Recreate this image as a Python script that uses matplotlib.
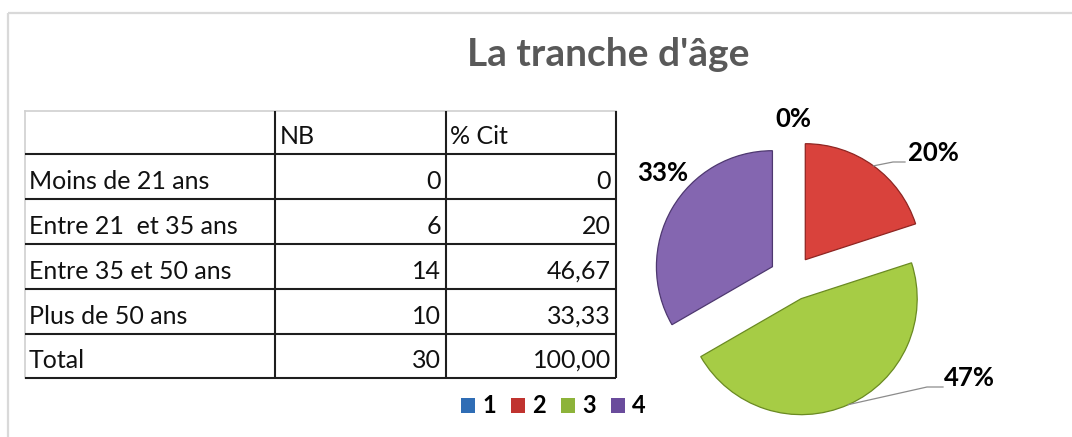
import numpy as np
import matplotlib
matplotlib.use("Agg")
import matplotlib.pyplot as plt
from matplotlib.patches import Rectangle

# ---- data ----
title = "La tranche d'âge"
categories = ["Moins de 21 ans", "Entre 21  et 35 ans", "Entre 35 et 50 ans", "Plus de 50 ans"]
nb = [0, 6, 14, 10]
pct_cit = ["0", "20", "46,67", "33,33"]
total_label = "Total"
total_nb = "30"
total_pct = "100,00"
headers = ["", "NB", "% Cit"]
legend_labels = ["1", "2", "3", "4"]

# ---- style ----
W, H = 1072, 437
pie_colors = ["#4F81BD", "#D9423C", "#A6CC45", "#8466B0"]
pie_edges = ["#2C4D74", "#8E2522", "#6A8A22", "#4E3870"]
legend_colors = ["#2F6DB5", "#C0332F", "#8DB33A", "#6A4C9C"]
FONT = "Lato"

fig = plt.figure(figsize=(W / 100, H / 100), dpi=100)
ax = fig.add_axes([0, 0, 1, 1])

def Y(y):
    return H - y

# outer frame
ax.plot([8, 8], [Y(13), Y(437)], color="#D9D9D9", lw=1.6, solid_capstyle="butt")
ax.plot([8, W], [Y(13), Y(13)], color="#D9D9D9", lw=1.6, solid_capstyle="butt")

# title
ax.text(608, Y(55), title, ha="center", va="center", fontsize=28,
        fontweight="bold", color="#595959", family=FONT)

# ---- table ----
xs = [25, 275, 446, 616]
ys = [111, 154, 199, 244, 289, 334, 378]
dark = "#1E1E1E"
light = "#D0D0D0"
ax.plot([xs[0], xs[-1]], [Y(ys[0]), Y(ys[0])], color=light, lw=1.2)
ax.plot([xs[0], xs[0]], [Y(ys[0]), Y(ys[-1])], color=light, lw=1.2)
for yy in ys[1:]:
    ax.plot([xs[0], xs[-1]], [Y(yy), Y(yy)], color=dark, lw=1.5, solid_capstyle="butt")
for xx in xs[1:]:
    ax.plot([xx, xx], [Y(ys[0]), Y(ys[-1])], color=dark, lw=1.5, solid_capstyle="butt")

tfs = 18
tc = "#111111"
# header
ax.text(xs[1] + 5, Y(ys[1] - 10), headers[1], ha="left", va="baseline",
        fontsize=tfs, color=tc, family=FONT)
ax.text(xs[2] + 4, Y(ys[1] - 10), headers[2], ha="left", va="baseline",
        fontsize=tfs, color=tc, family=FONT)
rows = [(c, str(n), p) for c, n, p in zip(categories, nb, pct_cit)]
rows.append((total_label, total_nb, total_pct))
for i, (c, n, p) in enumerate(rows):
    base = Y(ys[i + 2] - 10)
    ax.text(xs[0] + 4, base, c, ha="left", va="baseline", fontsize=tfs, color=tc, family=FONT)
    ax.text(xs[2] - 5, base, n, ha="right", va="baseline", fontsize=tfs, color=tc, family=FONT)
    ax.text(xs[3] - 5, base, p, ha="right", va="baseline", fontsize=tfs, color=tc, family=FONT)

# ---- pie ----
cx, cy, R = 792, Y(278), 116
explode_px = 22.6
wedges, _ = ax.pie(nb, colors=pie_colors, startangle=90, counterclock=False,
                   explode=[explode_px] * len(nb), radius=R, center=(cx, cy),
                   wedgeprops=dict(linewidth=0.9))
for w, ec, v in zip(wedges, pie_edges, nb):
    w.set_edgecolor(ec)
    if v == 0:
        w.set_linewidth(0)

total = sum(nb)
pct_labels = [f"{round(v / total * 100)}%" for v in nb]
label_pos = [(793, 119), (933, 153), (969, 378), (663, 173)]
for lab, (lx, ly) in zip(pct_labels, label_pos):
    ax.text(lx, Y(ly), lab, ha="center", va="center", fontsize=18.5,
            fontweight="bold", color="#000000", family=FONT)

# leader lines for slices 2 and 3
def arc_mid(w):
    a = np.deg2rad((w.theta1 + w.theta2) / 2)
    return w.center[0] + w.r * np.cos(a), w.center[1] + w.r * np.sin(a)

leader_pts = {1: [(893, 162), (905, 162)], 2: [(927, 387), (943, 387)]}
for idx, pts in leader_pts.items():
    sx, sy = arc_mid(wedges[idx])
    px = [sx] + [p[0] for p in pts]
    py = [sy] + [Y(p[1]) for p in pts]
    ax.plot(px, py, color="#8C8C8C", lw=0.9)

# ---- legend ----
lx0 = 461
for i, (lab, col) in enumerate(zip(legend_labels, legend_colors)):
    x = lx0 + i * 50
    ax.add_patch(Rectangle((x, Y(413)), 14, 15, facecolor=col, edgecolor="none"))
    ax.text(x + 21, Y(413), lab, ha="left", va="baseline", fontsize=17,
            fontweight="bold", color="#000000", family=FONT)

ax.set_xlim(0, W)
ax.set_ylim(0, H)
ax.set_aspect("auto")
ax.axis("off")

fig.savefig("out.png", dpi=100, facecolor="white")
